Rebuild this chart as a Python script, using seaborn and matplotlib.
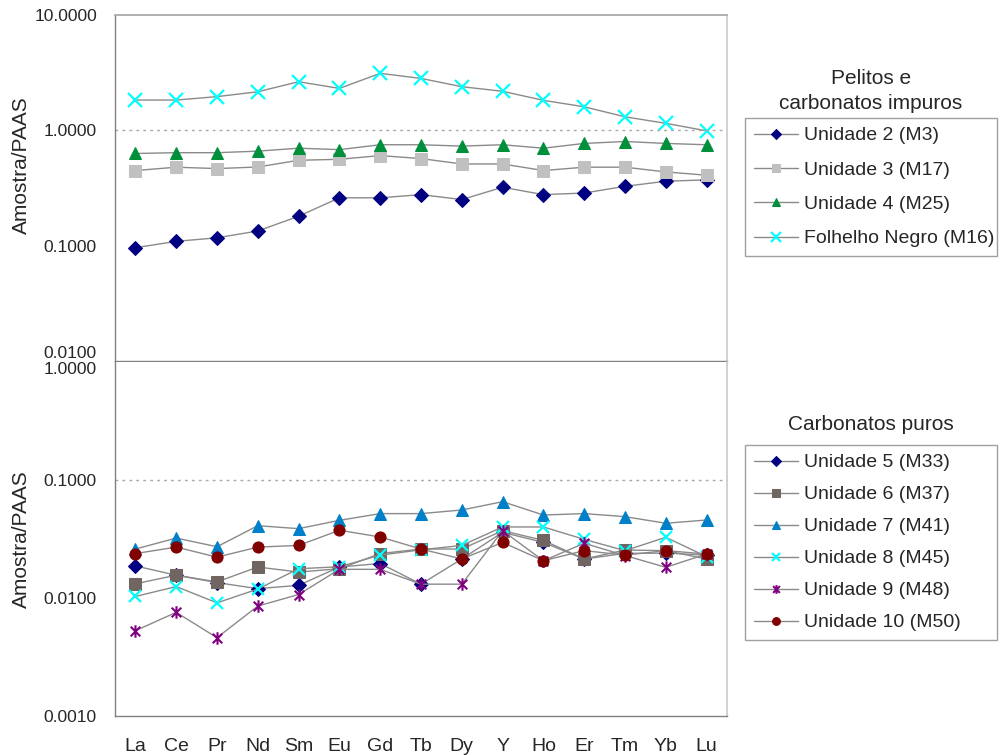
import matplotlib
matplotlib.use("Agg")
import matplotlib.pyplot as plt
import seaborn as sns
import numpy as np
from matplotlib.path import Path
from matplotlib.ticker import FixedLocator, FixedFormatter

elements = ['La', 'Ce', 'Pr', 'Nd', 'Sm', 'Eu', 'Gd', 'Tb', 'Dy', 'Y', 'Ho', 'Er', 'Tm', 'Yb', 'Lu']

# Pelitos e carbonatos impuros
unidade2 = [0.096, 0.109, 0.117, 0.134, 0.180, 0.260, 0.260, 0.277, 0.251, 0.321, 0.277, 0.286, 0.327, 0.362, 0.372]
unidade3 = [0.448, 0.479, 0.466, 0.481, 0.550, 0.561, 0.604, 0.569, 0.511, 0.511, 0.448, 0.479, 0.479, 0.436, 0.408]
unidade4 = [0.63, 0.64, 0.64, 0.66, 0.70, 0.68, 0.75, 0.75, 0.73, 0.75, 0.70, 0.77, 0.80, 0.77, 0.75]
folhelho = [1.83, 1.83, 1.96, 2.16, 2.64, 2.31, 3.12, 2.82, 2.39, 2.18, 1.82, 1.60, 1.31, 1.15, 0.99]

# Carbonatos puros
unidade5 = [0.0187, 0.0156, 0.0135, 0.0120, 0.0128, 0.0183, 0.0196, 0.0131, 0.0214, 0.0360, 0.0296, 0.0214, 0.0239, 0.0240, 0.0231]
unidade6 = [0.0132, 0.0156, 0.0137, 0.0183, 0.0166, 0.0177, 0.0238, 0.0260, 0.0260, 0.0372, 0.0308, 0.0214, 0.0255, 0.0252, 0.0214]
unidade7 = [0.0260, 0.0322, 0.0272, 0.0410, 0.0387, 0.0455, 0.0519, 0.0519, 0.0557, 0.0655, 0.0505, 0.0519, 0.0489, 0.0430, 0.0458]
unidade8 = [0.0103, 0.0125, 0.0091, 0.0119, 0.0177, 0.0184, 0.0231, 0.0256, 0.0279, 0.0400, 0.0400, 0.0314, 0.0252, 0.0327, 0.0224]
unidade9 = [0.00528, 0.00756, 0.00461, 0.00855, 0.0107, 0.0175, 0.0175, 0.0131, 0.0131, 0.0372, 0.0207, 0.0291, 0.0229, 0.0182, 0.0236]
unidade10 = [0.0238, 0.0270, 0.0222, 0.0270, 0.0279, 0.0375, 0.0329, 0.0260, 0.0214, 0.0296, 0.0207, 0.0252, 0.0231, 0.0252, 0.0236]

top_ticks = [0.01, 0.1, 1, 10]
bottom_ticks = [0.001, 0.01, 0.1, 1]

sns.set_theme(style="white")
plt.rcParams['font.family'] = ['Liberation Sans', 'DejaVu Sans']

# Excel-like star marker: an x with a vertical bar
star = Path([(-1, -1), (1, 1), (-1, 1), (1, -1), (0, -1.3), (0, 1.3)],
            [Path.MOVETO, Path.LINETO, Path.MOVETO, Path.LINETO, Path.MOVETO, Path.LINETO])

line_color = '#8a8a8a'
x = np.arange(len(elements))

fig = plt.figure(figsize=(10, 7.55), dpi=100)
ax1 = fig.add_axes([0.115, 1 - 361 / 755, 0.612, (361 - 15) / 755])
ax2 = fig.add_axes([0.115, 1 - 716 / 755, 0.612, (716 - 362) / 755])

top_series = [
    ('Unidade 2 (M3)', unidade2, dict(marker='D', ms=7.5, mfc='#000080', mec='#000080')),
    ('Unidade 3 (M17)', unidade3, dict(marker='s', ms=8, mfc='#c0c0c0', mec='#c0c0c0')),
    ('Unidade 4 (M25)', unidade4, dict(marker='^', ms=9, mfc='#00903c', mec='#00903c')),
    ('Folhelho Negro (M16)', folhelho, dict(marker='x', ms=10, mfc='#00ffff', mec='#00ffff', mew=1.6)),
]
bottom_series = [
    ('Unidade 5 (M33)', unidade5, dict(marker='D', ms=7, mfc='#000080', mec='#000080')),
    ('Unidade 6 (M37)', unidade6, dict(marker='s', ms=8, mfc='#706560', mec='#706560')),
    ('Unidade 7 (M41)', unidade7, dict(marker='^', ms=9, mfc='#0080c8', mec='#0080c8')),
    ('Unidade 8 (M45)', unidade8, dict(marker='x', ms=9, mfc='#00ffff', mec='#00ffff', mew=1.6)),
    ('Unidade 9 (M48)', unidade9, dict(marker=star, ms=9, mfc='#800080', mec='#800080', mew=1.5)),
    ('Unidade 10 (M50)', unidade10, dict(marker='o', ms=8, mfc='#800000', mec='#800000')),
]

for ax, series in [(ax1, top_series), (ax2, bottom_series)]:
    for label, vals, style in series:
        sns.lineplot(x=x, y=vals, ax=ax, color=line_color, lw=1, label=label, **style)

for ax, ticks in [(ax1, top_ticks), (ax2, bottom_ticks)]:
    ax.set_yscale('log')
    ax.set_ylim(ticks[0], ticks[-1])
    ax.set_xlim(-0.5, len(elements) - 0.5)
    ax.yaxis.set_major_locator(FixedLocator(ticks))
    ax.yaxis.set_major_formatter(FixedFormatter([f'{t:.4f}' for t in ticks]))
    ax.yaxis.set_minor_locator(FixedLocator([]))
    ax.set_xticks(x)
    ax.set_xticks(np.arange(len(elements) + 1) - 0.5, minor=True)
    ax.tick_params(axis='x', which='major', length=0, pad=16)
    ax.tick_params(axis='x', which='minor', length=5, color='#808080', width=1, direction='out')
    ax.tick_params(axis='y', length=7, color='#808080', width=1, direction='out', labelsize=12.5, pad=6)
    ax.axhline(ticks[2], color='#a8a8a8', lw=1, ls=(0, (2, 3)))
    for side in ['left', 'bottom']:
        ax.spines[side].set_color('#808080')
        ax.spines[side].set_linewidth(1)
    ax.spines['top'].set_color('#a8a8a8')
    ax.spines['right'].set_color('#cccccc')
    ax.set_ylabel('Amostra/PAAS', fontsize=15)
    ax.legend_.remove()

ax1.yaxis.set_label_coords(-0.138, 0.566)
ax2.yaxis.set_label_coords(-0.138, 0.5)
ax1.set_xticklabels([])
ax2.set_xticklabels(elements, fontsize=14)
ax2.spines['top'].set_visible(False)
ax1.yaxis.get_majorticklabels()[0].set_va('bottom')
ax2.yaxis.get_majorticklabels()[-1].set_va('top')

# legends with titles above the frame
for ax, title, ty, box_top, spacing in [
        (ax1, 'Pelitos e\ncarbonatos impuros', 91, 118, 0.86),
        (ax2, 'Carbonatos puros', 425, 445, 0.74)]:
    fig.text(0.871, 1 - ty / 755, title, ha='center', va='center', fontsize=15, linespacing=1.35)
    h, l = ax.get_legend_handles_labels()
    leg = fig.legend(h, l, loc='upper left', mode='expand',
                     bbox_to_anchor=(0.745, 1 - (box_top + 10) / 755, 0.252, 10 / 755),
                     bbox_transform=fig.transFigure, borderaxespad=0, fontsize=14,
                     frameon=True, fancybox=False, edgecolor='#a0a0a0', framealpha=1,
                     handlelength=2.3, handletextpad=0.3, labelspacing=spacing, borderpad=0.45,
                     markerscale=0.7)
    leg.get_frame().set_linewidth(1)

fig.savefig('out.png', dpi=100)
